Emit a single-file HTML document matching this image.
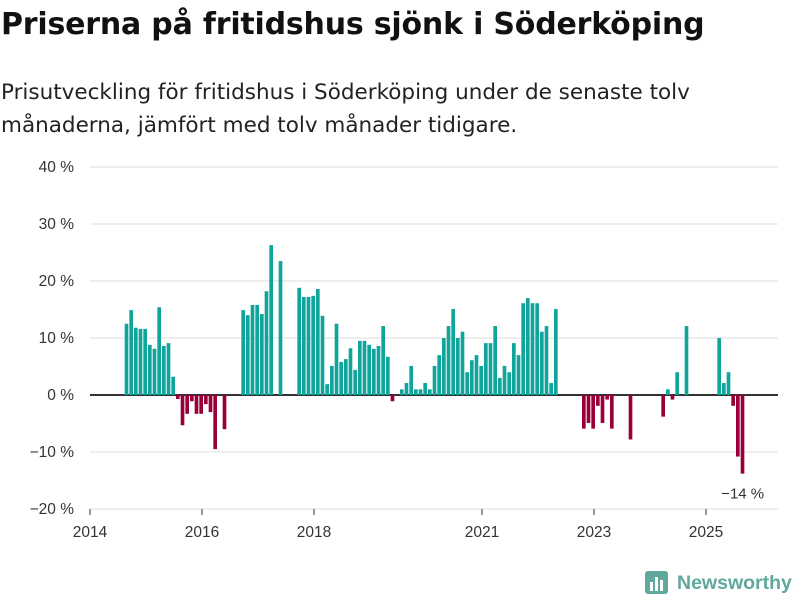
<!DOCTYPE html>
<html><head><meta charset="utf-8"><style>
body{margin:0;background:#fff;width:800px;height:600px;overflow:hidden;font-family:"Liberation Sans","DejaVu Sans",sans-serif;}
#title{position:absolute;left:1px;top:7px;font-family:"DejaVu Sans",sans-serif;font-size:30px;font-weight:bold;color:#111;letter-spacing:-0.2px;white-space:nowrap}
#sub{position:absolute;left:1px;top:76px;font-family:"DejaVu Sans",sans-serif;font-size:21.5px;line-height:33px;color:#222;white-space:nowrap}
svg{position:absolute;left:0;top:0}
</style></head><body>
<div id="title">Priserna på fritidshus sjönk i Söderköping</div>
<div id="sub">Prisutveckling för fritidshus i Söderköping under de senaste tolv<br>månaderna, jämfört med tolv månader tidigare.</div>
<svg id="chart" width="800" height="600"></svg>
<script>
const startMonth = 7; // Aug 2014 = month index 7 from Jan 2014
const values = [12.5,14.9,11.8,11.6,11.6,8.8,8.1,15.4,8.6,9.1,3.2,-0.7,-5.3,-3.3,-1.1,-3.3,-3.3,-1.6,-3.0,-9.5,null,-6.0,
null,null,null,14.9,14.0,15.8,15.8,14.2,18.2,26.3,null,23.5,null,null,null,
18.8,17.2,17.2,17.4,18.6,13.9,1.9,5.1,12.5,5.8,6.3,8.2,4.4,9.5,9.5,8.8,8.1,8.6,12.1,6.7,-1.1,null,
1.0,2.1,5.1,1.0,1.0,2.1,1.0,5.1,7.0,10.0,12.1,15.1,10.0,11.1,4.0,6.1,7.0,5.1,9.1,9.1,12.1,3.0,5.1,4.0,9.1,7.0,16.1,17.0,16.1,16.1,11.1,12.1,2.1,15.1,
null,null,null,null,null,-5.9,-4.9,-5.9,-1.9,-4.9,-0.8,-5.9,null,null,null,-7.8,
null,null,null,null,null,null,-3.8,1.0,-0.8,4.0,null,12.1,null,null,null,null,null,null,10.0,2.1,4.0,-1.9,-10.8,-13.8];
const yTicks = [40,30,20,10,0,-10,-20];
const xTickYears = [2014,2016,2018,2021,2023,2025];
const lastLabel = "−14 %";

const svg = document.getElementById('chart');
const NS = 'http://www.w3.org/2000/svg';
const x0 = 90, mw = 56/12;
const X = m => x0 + m*mw;
const Y = v => 395 - v*5.7;
function mk(tag, attrs){const e=document.createElementNS(NS,tag);for(const k in attrs)e.setAttribute(k,attrs[k]);svg.appendChild(e);return e;}

yTicks.forEach(t=>{
  const g = mk('line',{x1:90,x2:778,y1:Y(t),y2:Y(t),stroke:t===0?'#333':'#ddd','stroke-width':t===0?2:1});
  
  
  const tx = mk('text',{x:74,y:Y(t)+5,'text-anchor':'end','font-size':15.5,fill:'#333'});
  tx.textContent = (t<0?'−'+(-t):t)+' %';
  
  
});
values.forEach((v,i)=>{
  if(v===null) return;
  const m = startMonth + i;
  const y = v>=0?Y(v):Y(0);
  const r = mk('rect',{x:X(m)+2,y:y,width:mw-1,height:Math.abs(Y(v)-Y(0)),fill:v>=0?'#10a59b':'#99003a'});
  
  
});
xTickYears.forEach(yr=>{
  const xx = X((yr-2014)*12);
  const l = mk('line',{x1:xx,x2:xx,y1:509,y2:515,stroke:'#333','stroke-width':1});
  
  
  const t = mk('text',{x:xx,y:537,'text-anchor':'middle','font-size':15.5,fill:'#333'});
  t.textContent = yr;
  
  
});
const lastM = startMonth + values.length - 1;
const lab = mk('text',{x:X(lastM)+4,y:Y(values[values.length-1])+25,'text-anchor':'middle','font-size':15,fill:'#333'});
lab.textContent = lastLabel;


</script>
<svg width="800" height="600" style="position:absolute;left:0;top:0">
<rect x="645" y="571" width="23" height="23" rx="3" fill="#5fa89b"/>
<rect x="650" y="582" width="3" height="9" fill="#fff"/><rect x="655" y="577" width="3" height="14" fill="#fff"/><rect x="660" y="580" width="3" height="11" fill="#fff"/>
<text x="677" y="589" font-size="19.5" font-weight="bold" fill="#5fa89b">Newsworthy</text>
</svg>
</body></html>
